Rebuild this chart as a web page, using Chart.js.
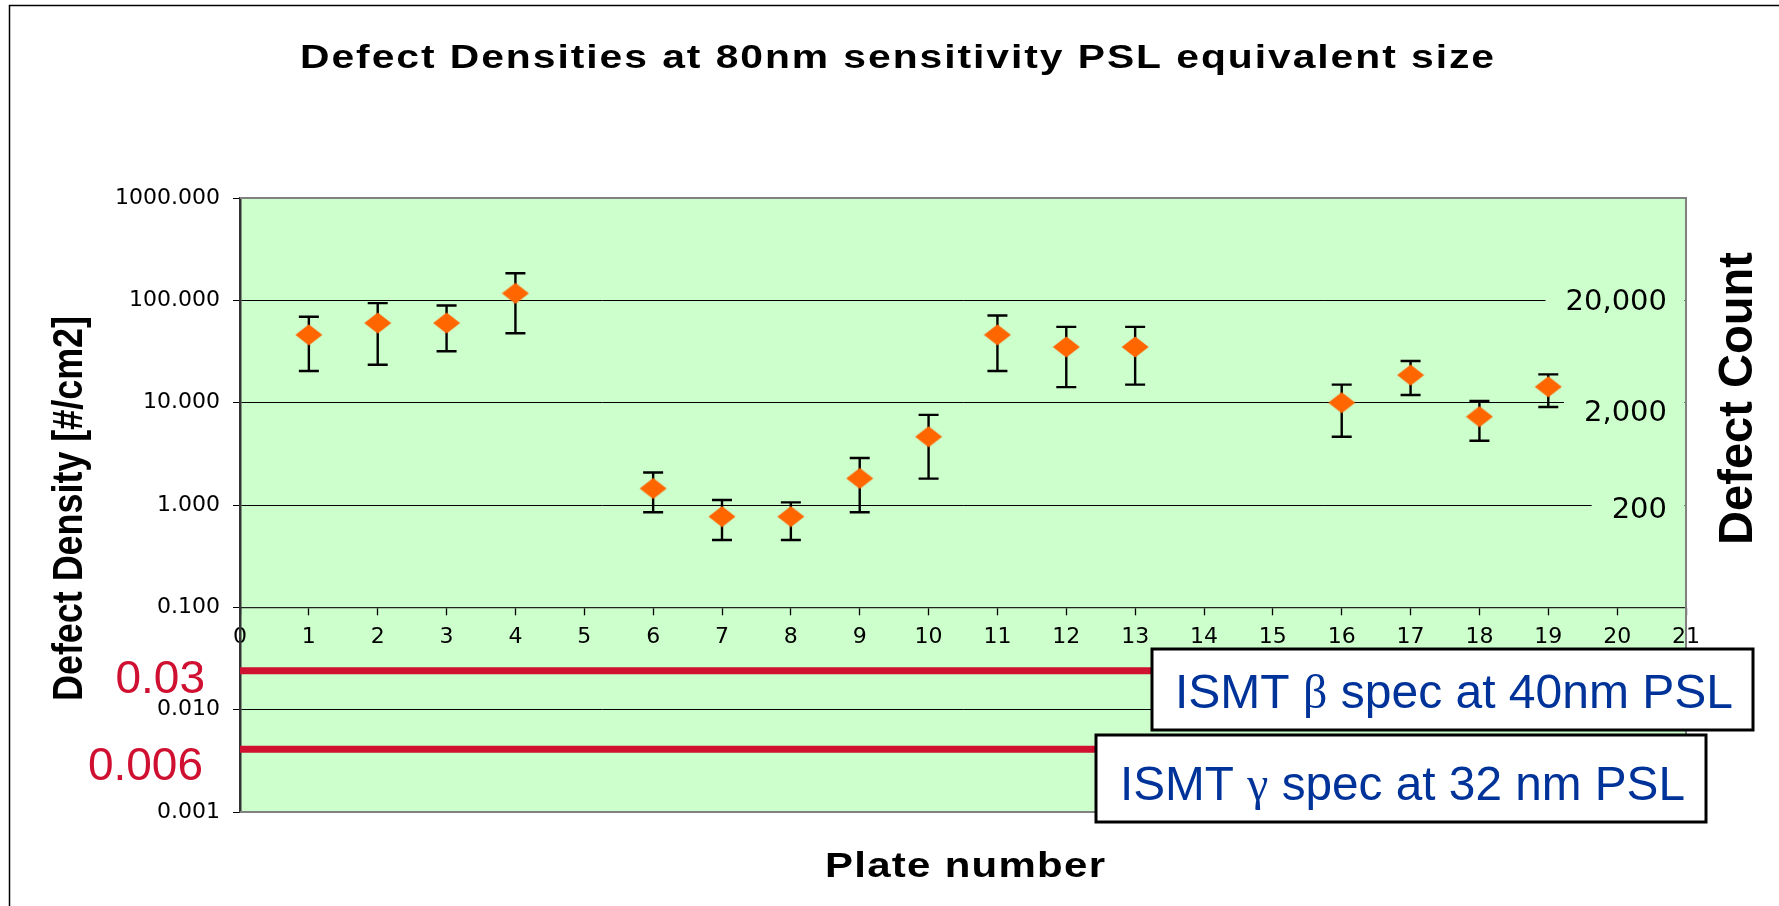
<!DOCTYPE html>
<html><head><meta charset="utf-8">
<script src="https://cdn.jsdelivr.net/npm/chart.js@4.4.1/dist/chart.umd.min.js"></script>
<style>html,body{margin:0;padding:0;background:#fff;}#wrap{width:1779px;height:906px;position:relative}</style>
</head><body><div id="wrap"><canvas id="c"></canvas></div>
<script>
// ---- data ----
const plateNumbers  = [1, 2, 3, 4, 6, 7, 8, 9, 10, 11, 12, 13, 16, 17, 18, 19];
const defectDensity = [46, 60, 60, 117, 1.45, 0.77, 0.77, 1.82, 4.65, 46, 35, 35, 10, 18.6, 7.3, 14.3];
const densityUpper  = [69, 94, 89, 184, 2.08, 1.12, 1.06, 2.88, 7.6, 71, 55, 55, 15, 25.5, 10.4, 18.9];
const densityLower  = [20.4, 23.5, 31.8, 47.6, 0.85, 0.455, 0.455, 0.85, 1.81, 20.4, 14.2, 15, 4.65, 11.9, 4.25, 9.07];
const xTickValues   = [0,1,2,3,4,5,6,7,8,9,10,11,12,13,14,15,16,17,18,19,20,21];
const yTickValues   = [0.001, 0.01, 0.1, 1, 10, 100, 1000];
const yTickLabels   = ['0.001','0.010','0.100','1.000','10.000','100.000','1000.000'];
const countTickValues = [100, 10, 1];
const countTickLabels = ['20,000', '2,000', '200'];
const specLevels    = [0.024, 0.0041];
const specLabels    = ['0.03', '0.006'];
const specNotes     = ['ISMT β spec at 40nm PSL', 'ISMT γ spec at 32 nm PSL'];
const chartTitle    = 'Defect Densities at 80nm sensitivity PSL equivalent size';
const xTitle        = 'Plate number';
const yTitle        = 'Defect Density [#/cm2]';
const y2Title       = 'Defect Count';

// ---- styles ----
const GREEN = '#CCFFCC', ORANGE = '#FF6600', CRIMSON = '#CF1030', NAVY = '#003399';
Chart.defaults.font.family = '"Liberation Sans", Arial, sans-serif';

const diamond = document.createElement('canvas');
diamond.width = 28; diamond.height = 22;
(function(){ const g = diamond.getContext('2d'); g.fillStyle = ORANGE; g.beginPath();
  g.moveTo(14,0.5); g.lineTo(27.5,11); g.lineTo(14,21.5); g.lineTo(0.5,11); g.closePath(); g.fill(); })();

function drawWide(ctx, text, left, right, baseline, font, color, sx){
  ctx.save(); ctx.font = font; ctx.fillStyle = color; ctx.textAlign = 'left'; ctx.textBaseline = 'alphabetic';
  const w0 = ctx.measureText(text).width; const n = [...text].length;
  const gapLocal = ((right - left) - w0 * sx) / (n - 1) / sx;
  ctx.translate(left, baseline); ctx.scale(sx, 1);
  if ('letterSpacing' in ctx) { ctx.letterSpacing = gapLocal + 'px'; ctx.fillText(text, 0, 0); }
  else { ctx.setTransform(1,0,0,1,0,0); ctx.translate(left, baseline); ctx.scale((right-left)/w0, 1); ctx.fillText(text, 0, 0); }
  ctx.restore();
}
function drawRotatedFit(ctx, text, baseX, bottomY, length, font, color){
  ctx.save(); ctx.font = font; ctx.fillStyle = color; ctx.textAlign = 'left'; ctx.textBaseline = 'alphabetic';
  const w = ctx.measureText(text).width;
  ctx.translate(baseX, bottomY); ctx.rotate(-Math.PI/2); ctx.scale(length / w, 1);
  ctx.fillText(text, 0, 0); ctx.restore();
}
function drawRuns(ctx, text, left, baseline, targetW, size, color){
  const runs = text.split(/([α-ω])/).filter(s => s.length).map(t => ({t, f: /^[α-ω]$/.test(t) ? size + 'px "Liberation Serif", serif' : size + 'px "Liberation Sans", Arial, sans-serif'}));
  ctx.save(); ctx.fillStyle = color; ctx.textAlign = 'left'; ctx.textBaseline = 'alphabetic';
  let total = 0; runs.forEach(r => { ctx.font = r.f; r.w = ctx.measureText(r.t).width; total += r.w; });
  ctx.translate(left, baseline); ctx.scale(targetW / total, 1);
  let x = 0; runs.forEach(r => { ctx.font = r.f; ctx.fillText(r.t, x, 0); x += r.w; });
  ctx.restore();
}

const backgroundPlugin = {
  id: 'bg',
  beforeDraw(chart){
    const {ctx, chartArea: a} = chart;
    ctx.save();
    ctx.fillStyle = '#fff'; ctx.fillRect(0, 0, chart.width, chart.height);
    ctx.strokeStyle = '#000'; ctx.lineWidth = 1.5;
    ctx.beginPath(); ctx.moveTo(9.5, chart.height); ctx.lineTo(9.5, 5.5); ctx.lineTo(chart.width, 5.5); ctx.stroke();
    ctx.fillStyle = GREEN; ctx.fillRect(a.left, a.top, a.right - a.left, a.bottom - a.top);
    ctx.restore();
  }
};
const errorBarPlugin = {
  id: 'errorBars',
  beforeDatasetsDraw(chart){
    const {ctx, scales: {x, y}} = chart;
    ctx.save(); ctx.strokeStyle = '#000'; ctx.lineWidth = 2.4;
    plateNumbers.forEach((p, i) => {
      const px = x.getPixelForValue(p), yt = y.getPixelForValue(densityUpper[i]), yb = y.getPixelForValue(densityLower[i]);
      ctx.beginPath();
      ctx.moveTo(px, yt); ctx.lineTo(px, yb);
      ctx.moveTo(px - 10, yt); ctx.lineTo(px + 10, yt);
      ctx.moveTo(px - 10, yb); ctx.lineTo(px + 10, yb);
      ctx.stroke();
    });
    ctx.restore();
  },
  afterDatasetsDraw(chart){
    const {ctx, chartArea: a} = chart;
    ctx.save(); ctx.strokeStyle = '#808080'; ctx.lineWidth = 2;
    ctx.beginPath(); ctx.moveTo(a.left, a.top); ctx.lineTo(a.right, a.top); ctx.lineTo(a.right, a.bottom); ctx.lineTo(a.left, a.bottom); ctx.stroke();
    ctx.restore();
  }
};
const textPlugin = {
  id: 'texts',
  afterDraw(chart){
    const {ctx, chartArea: a, scales: {y}} = chart;
    // right-hand count labels (text boxes on the plot)
    const offs = [2, 11, 5];
    ctx.save(); ctx.font = '29px "DejaVu Sans", sans-serif'; ctx.textAlign = 'right'; ctx.textBaseline = 'middle';
    countTickValues.forEach((v, i) => {
      const py = y.getPixelForValue(v) + offs[i];
      const w = ctx.measureText(countTickLabels[i]).width;
      const rx = 1667;
      ctx.fillStyle = GREEN; ctx.fillRect(rx - w - 20, py - 16, (a.right - 1.5) - (rx - w - 20), 32);
      ctx.fillStyle = '#000'; ctx.fillText(countTickLabels[i], rx, py);
    });
    ctx.restore();
    // titles
    drawWide(ctx, chartTitle, 300, 1494, 68, 'bold 34px "Liberation Sans", Arial, sans-serif', '#000', 1.2);
    drawWide(ctx, xTitle, 825, 1105, 877, 'bold 35px "Liberation Sans", Arial, sans-serif', '#000', 1.2);
    drawRotatedFit(ctx, yTitle, 82, 701, 385, 'bold 42px "Liberation Sans", Arial, sans-serif', '#000');
    drawRotatedFit(ctx, y2Title, 1752, 545, 293, 'bold 48px "Liberation Sans", Arial, sans-serif', '#000');
    // spec labels
    ctx.save(); ctx.font = '46px "Liberation Sans", Arial, sans-serif'; ctx.fillStyle = CRIMSON; ctx.textAlign = 'right'; ctx.textBaseline = 'alphabetic';
    ctx.fillText(specLabels[0], 205, 693);
    ctx.fillText(specLabels[1], 203, 780);
    ctx.restore();
    // spec note boxes
    const boxes = [{l:1152, t:649, r:1753, b:730, tx:1175, bl:708, tw:558}, {l:1096, t:735, r:1706, b:822, tx:1120, bl:800, tw:565}];
    boxes.forEach((bx, i) => {
      ctx.save(); ctx.fillStyle = '#fff'; ctx.fillRect(bx.l, bx.t, bx.r - bx.l, bx.b - bx.t);
      ctx.strokeStyle = '#000'; ctx.lineWidth = 3; ctx.strokeRect(bx.l, bx.t, bx.r - bx.l, bx.b - bx.t); ctx.restore();
      drawRuns(ctx, specNotes[i], bx.tx, bx.bl, bx.tw, 48, NAVY);
    });
  }
};

new Chart(document.getElementById('c'), {
  type: 'scatter',
  data: {
    datasets: [
      { label: 'Defect density', data: plateNumbers.map((p, i) => ({x: p, y: defectDensity[i]})),
        pointStyle: diamond, pointRadius: 11, backgroundColor: ORANGE, borderColor: ORANGE, showLine: false, order: 0 },
      ...specLevels.map((lv, i) => ({ type: 'line', label: specLabels[i], data: [{x: 0, y: lv}, {x: 21, y: lv}],
        borderColor: CRIMSON, borderWidth: 7, pointRadius: 0, fill: false, order: 1 }))
    ]
  },
  options: {
    responsive: true, maintainAspectRatio: false, animation: false,
    layout: { padding: { left: 0, right: 93, top: 198, bottom: 94 } },
    plugins: { legend: { display: false }, title: { display: false }, tooltip: { enabled: false } },
    scales: {
      x: {
        type: 'linear', min: 0, max: 21, position: { y: 0.1 },
        afterBuildTicks: s => { s.ticks = xTickValues.map(v => ({value: v})); },
        ticks: { autoSkip: false, maxRotation: 0, padding: 10, color: '#000', font: { family: '"DejaVu Sans", sans-serif', size: 22 }, callback: v => String(v) },
        grid: { drawOnChartArea: false, drawTicks: true, tickLength: 7, tickColor: '#000', tickWidth: 1.3 },
        border: { display: true, color: '#222', width: 1.3 }
      },
      y: {
        type: 'logarithmic', position: 'left', min: 0.001, max: 1000,
        afterBuildTicks: s => { s.ticks = yTickValues.map(v => ({value: v})); },
        afterFit: s => { s.width = 240; },
        ticks: { padding: 13, color: '#000', font: { family: '"DejaVu Sans", sans-serif', size: 22 },
          callback: v => { const k = yTickValues.indexOf(v); return k >= 0 ? yTickLabels[k] : ''; } },
        grid: { color: '#000', lineWidth: 1, tickLength: 7, tickColor: '#000' },
        border: { color: '#333', width: 2.5 }
      }
    }
  },
  plugins: [backgroundPlugin, errorBarPlugin, textPlugin]
});
</script></body></html>
